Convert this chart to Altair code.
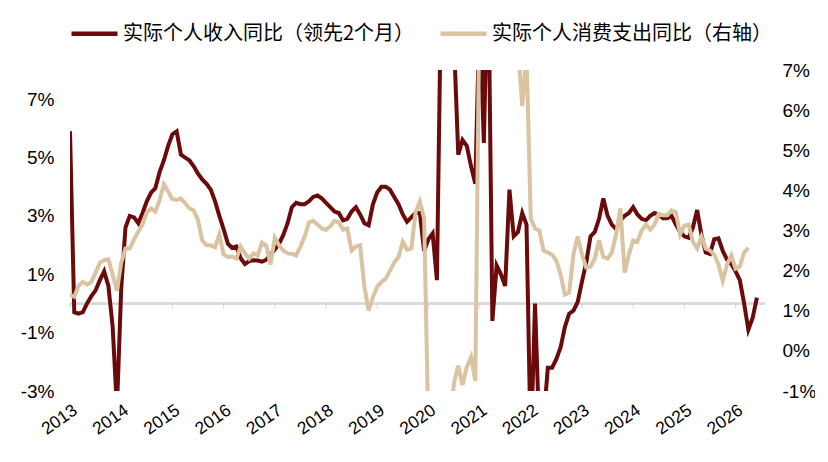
import altair as alt
import pandas as pd

# ---- data ----
income_label = "实际个人收入同比（领先2个月）"
spend_label = "实际个人消费支出同比（右轴）"

year_labels = ["2013", "2014", "2015", "2016", "2017", "2018", "2019",
               "2020", "2021", "2022", "2023", "2024", "2025", "2026"]
year_month_index = [0, 12, 24, 36, 48, 60, 72, 84, 96, 108, 120, 132, 144, 156]

# monthly, starting 2013-01 (left axis, %)
income = [
    5.9, -0.3, -0.35, -0.3, 0.0, 0.25, 0.45, 0.8, 1.1, 0.6, -0.8, -3.6,
    0.5, 2.6, 3.0, 2.95, 2.75, 3.1, 3.5, 3.8, 3.95, 4.5, 4.9, 5.4,
    5.8, 5.9, 5.1, 5.0, 4.9, 4.7, 4.45, 4.25, 4.1, 3.9, 3.5, 3.0,
    2.55, 2.05, 1.9, 1.95, 1.55, 1.35, 1.45, 1.48, 1.47, 1.43, 1.5, 1.67,
    1.85, 2.05, 2.35, 2.75, 3.3, 3.45, 3.4, 3.4, 3.5, 3.65, 3.7, 3.6,
    3.45, 3.3, 3.15, 3.1, 2.85, 2.9, 3.15, 3.3, 3.05, 2.75, 2.68, 3.4,
    3.8, 4.0, 4.0, 3.9, 3.65, 3.4, 3.05, 2.8, 2.95, 3.1, 3.1, 1.8,
    2.2, 2.4, 0.8, 11.0, 13.0, 12.0, 9.0, 5.1, 5.6, 5.4, 4.7, 4.1,
    10.0, 5.5, 12.0, -0.6, 1.3, 1.0, 0.6, 3.9, 2.3, 2.45, 3.1, 2.7,
    -5.0, 0.0, -4.5, -4.0, -2.2, -2.2, -1.9, -1.5, -0.8, -0.35, -0.25, 0.05,
    0.75, 1.4, 2.3, 2.45, 2.9, 3.6, 3.0, 2.7, 2.55, 2.85, 3.0, 3.1,
    3.3, 3.05, 2.9, 2.85, 3.0, 3.1, 3.05, 2.92, 2.92, 3.0, 2.7, 2.45,
    2.3, 2.25, 2.6, 3.2, 2.35, 1.75, 1.7, 2.2, 2.23, 1.8, 1.5, 1.35,
    1.1, 0.8, 0.0, -0.9, -0.5, 0.2,
]

# monthly, starting 2013-01 (right axis, %)
spending = [
    1.4, 1.35, 1.62, 1.72, 1.65, 1.72, 1.95, 2.2, 2.26, 2.28, 1.9, 1.5,
    2.2, 2.55, 2.55, 2.78, 2.97, 3.15, 3.45, 3.55, 3.47, 3.75, 4.15, 3.97,
    3.78, 3.76, 3.8, 3.68, 3.55, 3.5, 3.26, 2.75, 2.63, 2.63, 2.58, 2.9,
    2.4, 2.34, 2.35, 2.3, 2.6, 2.43, 2.3, 2.43, 2.38, 2.7, 2.62, 2.15,
    2.82, 2.63, 2.5, 2.43, 2.42, 2.38, 2.6, 2.85, 3.2, 3.24, 3.15, 3.05,
    3.02, 3.1, 3.24, 3.2, 3.02, 3.05, 2.5, 2.6, 2.63, 1.6, 1.0, 1.34,
    1.6, 1.72, 1.8, 2.0, 2.2, 2.34, 2.72, 2.52, 2.55, 3.45, 3.72, 3.3,
    -2.0, -15.0, -8.0, -5.0, -3.0, -2.0, -0.8, -0.37, -0.85, -0.4, -0.15, -0.75,
    9.0, 25.0, 16.0, 12.0, 10.0, 9.0, 8.5, 8.5, 8.5, 7.6, 6.1, 7.4,
    3.3, 3.05, 3.0, 2.5, 2.45, 2.4, 2.25, 1.9, 1.4, 1.45, 2.4, 2.85,
    2.4, 2.08, 2.1, 2.3, 2.75, 2.34, 2.3, 2.45, 2.9, 3.55, 1.95, 2.4,
    2.75, 2.72, 3.0, 3.15, 3.02, 3.15, 3.42, 3.38, 3.38, 3.5, 3.45, 2.9,
    3.12, 3.15, 2.72, 2.55, 2.84, 2.55, 2.5, 2.4, 2.15, 1.75, 2.15, 2.38,
    2.05, 2.1, 2.45, 2.57,
]

left_ticks = [-3, -1, 1, 3, 5, 7]
right_ticks = [-1, 0, 1, 2, 3, 4, 5, 6, 7]

RED = "#6b0a0a"
TAN = "#d9c3a0"
AXIS_FONT = "Liberation Sans"
CJK_FONT = "Noto Sans CJK SC"

df_inc = pd.DataFrame({"m": list(range(len(income))), "v": income, "s": income_label})
df_sp = pd.DataFrame({"m": list(range(len(spending))), "v": spending, "s": spend_label})
df_ticks = pd.DataFrame({"m": year_month_index, "lab": year_labels, "v": [0] * len(year_labels)})

label_expr = "{" + ",".join(f"'{i}':'{l}'" for i, l in zip(year_month_index, year_labels)) + "}[''+datum.value]"

x_enc = alt.X(
    "m:Q",
    scale=alt.Scale(domain=[0, 162.9], nice=False, zero=False),
    axis=alt.Axis(
        values=year_month_index, labelExpr=label_expr, labelAngle=-35,
        labelAlign="right", labelBaseline="top", labelFontSize=17.5,
        labelFont=AXIS_FONT, labelColor="#000", labelPadding=10,
        labelFlush=False, labelOverlap=False, domain=False, ticks=False,
        grid=False, title=None,
    ),
)

color_enc = alt.Color(
    "s:N",
    scale=alt.Scale(domain=[income_label, spend_label], range=[RED, TAN]),
    legend=alt.Legend(
        orient="none", legendX=-1, legendY=-62, direction="horizontal",
        title=None, symbolType="stroke", symbolStrokeWidth=4.5,
        symbolSize=2116, labelFontSize=20, labelFont=CJK_FONT,
        labelColor="#000", labelOffset=3, labelLimit=500,
        columnPadding=16, padding=0,
    ),
)

left_scale = alt.Scale(domain=[-3, 8], nice=False, zero=False)
right_scale = alt.Scale(domain=[-1, 7], nice=False, zero=False)

left_axis = alt.Axis(
    values=left_ticks, labelExpr="datum.value + '%'", labelFontSize=19,
    labelFont=AXIS_FONT, labelColor="#000", labelPadding=16,
    domain=False, ticks=False, grid=False, title=None,
)

zero_rule = alt.Chart(df_ticks).mark_rule(color="#d9d9d9", strokeWidth=1.5).encode(
    y=alt.Y("v:Q", scale=left_scale, axis=left_axis)
)

year_ticks = alt.Chart(df_ticks).mark_tick(
    orient="vertical", size=5, thickness=1, color="#c8c8c8", yOffset=2.5
).encode(
    x=x_enc,
    y=alt.Y("v:Q", scale=left_scale, axis=left_axis),
)

red_line = alt.Chart(df_inc).mark_line(strokeWidth=4, clip=True).encode(
    x=x_enc,
    y=alt.Y("v:Q", scale=left_scale, axis=left_axis),
    color=color_enc,
)

tan_line = alt.Chart(df_sp).mark_line(strokeWidth=4, clip=True).encode(
    x=x_enc,
    y=alt.Y(
        "v:Q", scale=right_scale,
        axis=alt.Axis(
            orient="right", values=right_ticks, labelExpr="datum.value + '%'",
            labelFontSize=19, labelFont=AXIS_FONT, labelColor="#000",
            labelPadding=17, domain=False, ticks=False, grid=False, title=None,
        ),
    ),
    color=color_enc,
)

left_group = alt.layer(zero_rule, year_ticks, red_line)

chart = (
    alt.layer(left_group, tan_line)
    .resolve_scale(y="independent")
    .properties(
        width=695, height=321,
        padding={"left": 62, "top": 62, "right": 50, "bottom": 60},
        autosize=alt.AutoSizeParams(type="none"),
        background="white",
    )
    .configure_view(stroke=None)
)

chart.save("out.html", embed_options={"renderer": "svg", "actions": False})
